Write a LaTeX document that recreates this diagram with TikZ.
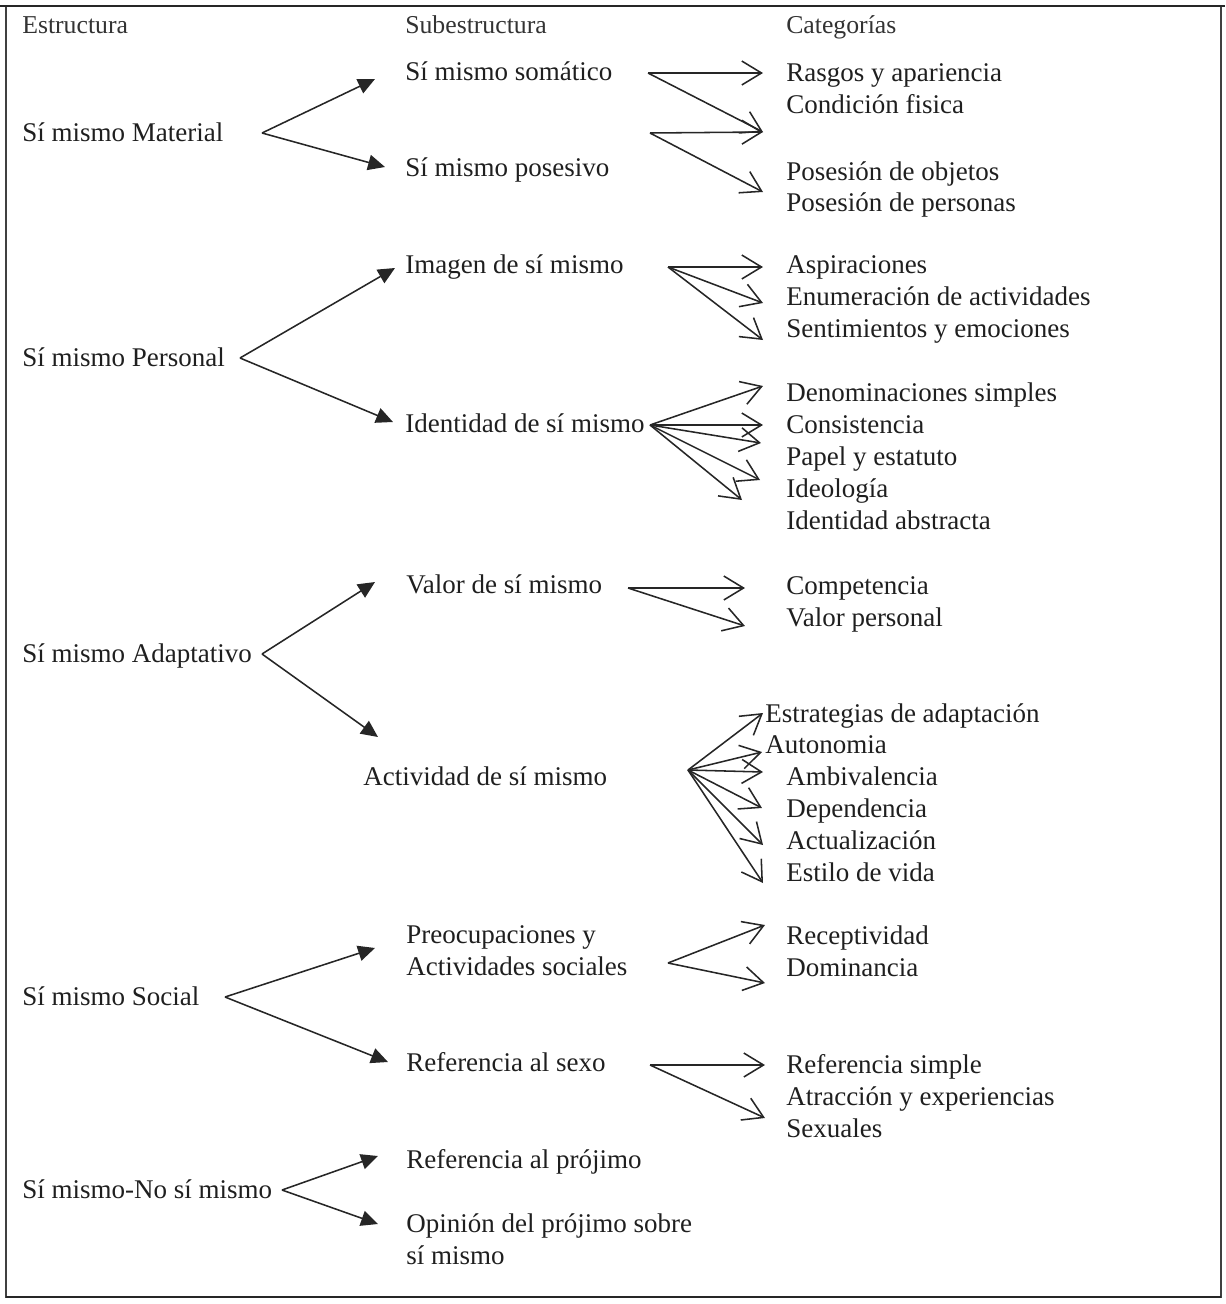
\documentclass[tikz,border=0pt]{standalone}
\usepackage{fontspec}
\setmainfont{Liberation Serif}
\usetikzlibrary{arrows.meta}
\tikzset{
  lbl/.style={anchor=base west, inner sep=0pt, text=black!88,
    font=\fontsize{19.2}{22}\selectfont},
  head/.style={anchor=base west, inner sep=0pt, text=black!80,
    font=\fontsize{18.3}{22}\selectfont},
  solidarrow/.style={-{Triangle[length=12pt,width=11pt]}, line width=1.1pt, black!85},
  barbarrow/.style={-{Straight Barb[length=14pt,width=17pt]}, line width=1.1pt, black!85},
}
\begin{document}
\begin{tikzpicture}[x=0.025cm,y=-0.025cm]
      \useasboundingbox (0,0) rectangle (1225,1304);
      \draw[line width=1pt, black!75] (6,6) rectangle (1221,1297);
      \draw[line width=1.8pt, black!85] (0,6) -- (1225,6);
      \draw[line width=1.8pt, black!85] (6,1297) -- (1221,1297);
      % headers
      \node[head] (h1) at (22, 33) {Estructura};
      \node[head] (h2) at (405, 33) {Subestructura};
      \node[head] (h3) at (786, 33) {Categorías};
      % estructura
      \node[lbl] (mat) at (22, 141) {Sí mismo Material};
      \node[lbl] (per) at (22, 366) {Sí mismo Personal};
      \node[lbl] (ada) at (22, 662) {Sí mismo Adaptativo};
      \node[lbl] (soc) at (22, 1005) {Sí mismo Social};
      \node[lbl] (nos) at (22, 1198) {Sí mismo-No sí mismo};
      % subestructura
      \node[lbl] (som) at (405, 80) {Sí mismo somático};
      \node[lbl] (pos) at (405, 176) {Sí mismo posesivo};
      \node[lbl] (ima) at (405, 273) {Imagen de sí mismo};
      \node[lbl] (ide) at (405, 432) {Identidad de sí mismo};
      \node[lbl] (val) at (406, 593) {Valor de sí mismo};
      \node[lbl] (act) at (363, 785) {Actividad de sí mismo};
      \node[lbl] (pre) at (406, 943) {Preocupaciones y};
      \node[lbl] (pre2) at (406, 975) {Actividades sociales};
      \node[lbl] (sex) at (406, 1071) {Referencia al sexo};
      \node[lbl] (pro) at (406, 1168) {Referencia al prójimo};
      \node[lbl] (opi) at (406, 1232) {Opinión del prójimo sobre};
      \node[lbl] (opi2) at (406, 1264) {sí mismo};
      % categorias
      \node[lbl] (ras) at (786, 81) {Rasgos y apariencia};
      \node[lbl] (con) at (786, 113) {Condición fisica};
      \node[lbl] (obj) at (786, 180) {Posesión de objetos};
      \node[lbl] (prs) at (786, 211) {Posesión de personas};
      \node[lbl] (asp) at (786, 273) {Aspiraciones};
      \node[lbl] (enu) at (786, 305) {Enumeración de actividades};
      \node[lbl] (sen) at (786, 337) {Sentimientos y emociones};
      \node[lbl] (den) at (786, 401) {Denominaciones simples};
      \node[lbl] (cns) at (786, 433) {Consistencia};
      \node[lbl] (pap) at (786, 465) {Papel y estatuto};
      \node[lbl] (ido) at (786, 497) {Ideología};
      \node[lbl] (iab) at (786, 529) {Identidad abstracta};
      \node[lbl] (com) at (786, 594) {Competencia};
      \node[lbl] (vpe) at (786, 626) {Valor personal};
      \node[lbl] (est) at (765, 722) {Estrategias de adaptación};
      \node[lbl] (aut) at (765, 753) {Autonomia};
      \node[lbl] (amb) at (786, 785) {Ambivalencia};
      \node[lbl] (dep) at (786, 817) {Dependencia};
      \node[lbl] (acz) at (786, 849) {Actualización};
      \node[lbl] (esv) at (786, 881) {Estilo de vida};
      \node[lbl] (rec) at (786, 944) {Receptividad};
      \node[lbl] (dom) at (786, 976) {Dominancia};
      \node[lbl] (rsi) at (786, 1073) {Referencia simple};
      \node[lbl] (atr) at (786, 1105) {Atracción y experiencias};
      \node[lbl] (sxl) at (786, 1137) {Sexuales};
      % puntos de las flechas
      \coordinate (mat-o) at (262, 133);
      \coordinate (mat-u) at (375, 79);
      \coordinate (mat-d) at (385, 167);
      \coordinate (per-o) at (240, 358);
      \coordinate (per-u) at (395, 268);
      \coordinate (per-d) at (393, 422);
      \coordinate (ada-o) at (262, 654);
      \coordinate (ada-u) at (375, 582);
      \coordinate (ada-d) at (378, 737);
      \coordinate (soc-o) at (225, 997);
      \coordinate (soc-u) at (375, 948);
      \coordinate (soc-d) at (388, 1062);
      \coordinate (nos-o) at (282, 1190);
      \coordinate (nos-u) at (378, 1156);
      \coordinate (nos-d) at (378, 1224);
      \coordinate (som-o) at (648, 73);
      \coordinate (pos-o) at (650, 133);
      \coordinate (c1) at (763, 73);
      \coordinate (c2) at (763, 132);
      \coordinate (c3) at (763, 192);
      \coordinate (ima-o) at (668, 267);
      \coordinate (i1) at (763, 267);
      \coordinate (i2) at (763, 303);
      \coordinate (i3) at (763, 340);
      \coordinate (ide-o) at (650, 425);
      \coordinate (d1) at (763, 386);
      \coordinate (d2) at (763, 425);
      \coordinate (d3) at (761, 443);
      \coordinate (d4) at (760, 480);
      \coordinate (d5) at (742, 500);
      \coordinate (val-o) at (628, 588);
      \coordinate (v1) at (745, 588);
      \coordinate (v2) at (745, 626);
      \coordinate (act-o) at (688, 770);
      \coordinate (a1) at (763, 713);
      \coordinate (a2) at (762, 752);
      \coordinate (a3) at (763, 772);
      \coordinate (a4) at (762, 808);
      \coordinate (a5) at (763, 845);
      \coordinate (a6) at (763, 883);
      \coordinate (pre-o) at (668, 963);
      \coordinate (p1) at (765, 925);
      \coordinate (p2) at (765, 983);
      \coordinate (sex-o) at (650, 1065);
      \coordinate (s1) at (765, 1065);
      \coordinate (s2) at (765, 1118);
      % estructura -> subestructura
      \draw[solidarrow] (mat-o) -- (mat-u);
      \draw[solidarrow] (mat-o) -- (mat-d);
      \draw[solidarrow] (per-o) -- (per-u);
      \draw[solidarrow] (per-o) -- (per-d);
      \draw[solidarrow] (ada-o) -- (ada-u);
      \draw[solidarrow] (ada-o) -- (ada-d);
      \draw[solidarrow] (soc-o) -- (soc-u);
      \draw[solidarrow] (soc-o) -- (soc-d);
      \draw[solidarrow] (nos-o) -- (nos-u);
      \draw[solidarrow] (nos-o) -- (nos-d);
      % subestructura -> categorias
      \draw[barbarrow] (som-o) -- (c1);
      \draw[barbarrow] (som-o) -- (c2);
      \draw[barbarrow] (pos-o) -- (c2);
      \draw[barbarrow] (pos-o) -- (c3);
      \draw[barbarrow] (ima-o) -- (i1);
      \draw[barbarrow] (ima-o) -- (i2);
      \draw[barbarrow] (ima-o) -- (i3);
      \draw[barbarrow] (ide-o) -- (d1);
      \draw[barbarrow] (ide-o) -- (d2);
      \draw[barbarrow] (ide-o) -- (d3);
      \draw[barbarrow] (ide-o) -- (d4);
      \draw[barbarrow] (ide-o) -- (d5);
      \draw[barbarrow] (val-o) -- (v1);
      \draw[barbarrow] (val-o) -- (v2);
      \draw[barbarrow] (act-o) -- (a1);
      \draw[barbarrow] (act-o) -- (a2);
      \draw[barbarrow] (act-o) -- (a3);
      \draw[barbarrow] (act-o) -- (a4);
      \draw[barbarrow] (act-o) -- (a5);
      \draw[barbarrow] (act-o) -- (a6);
      \draw[barbarrow] (pre-o) -- (p1);
      \draw[barbarrow] (pre-o) -- (p2);
      \draw[barbarrow] (sex-o) -- (s1);
      \draw[barbarrow] (sex-o) -- (s2);
    \end{tikzpicture}
\end{document}
